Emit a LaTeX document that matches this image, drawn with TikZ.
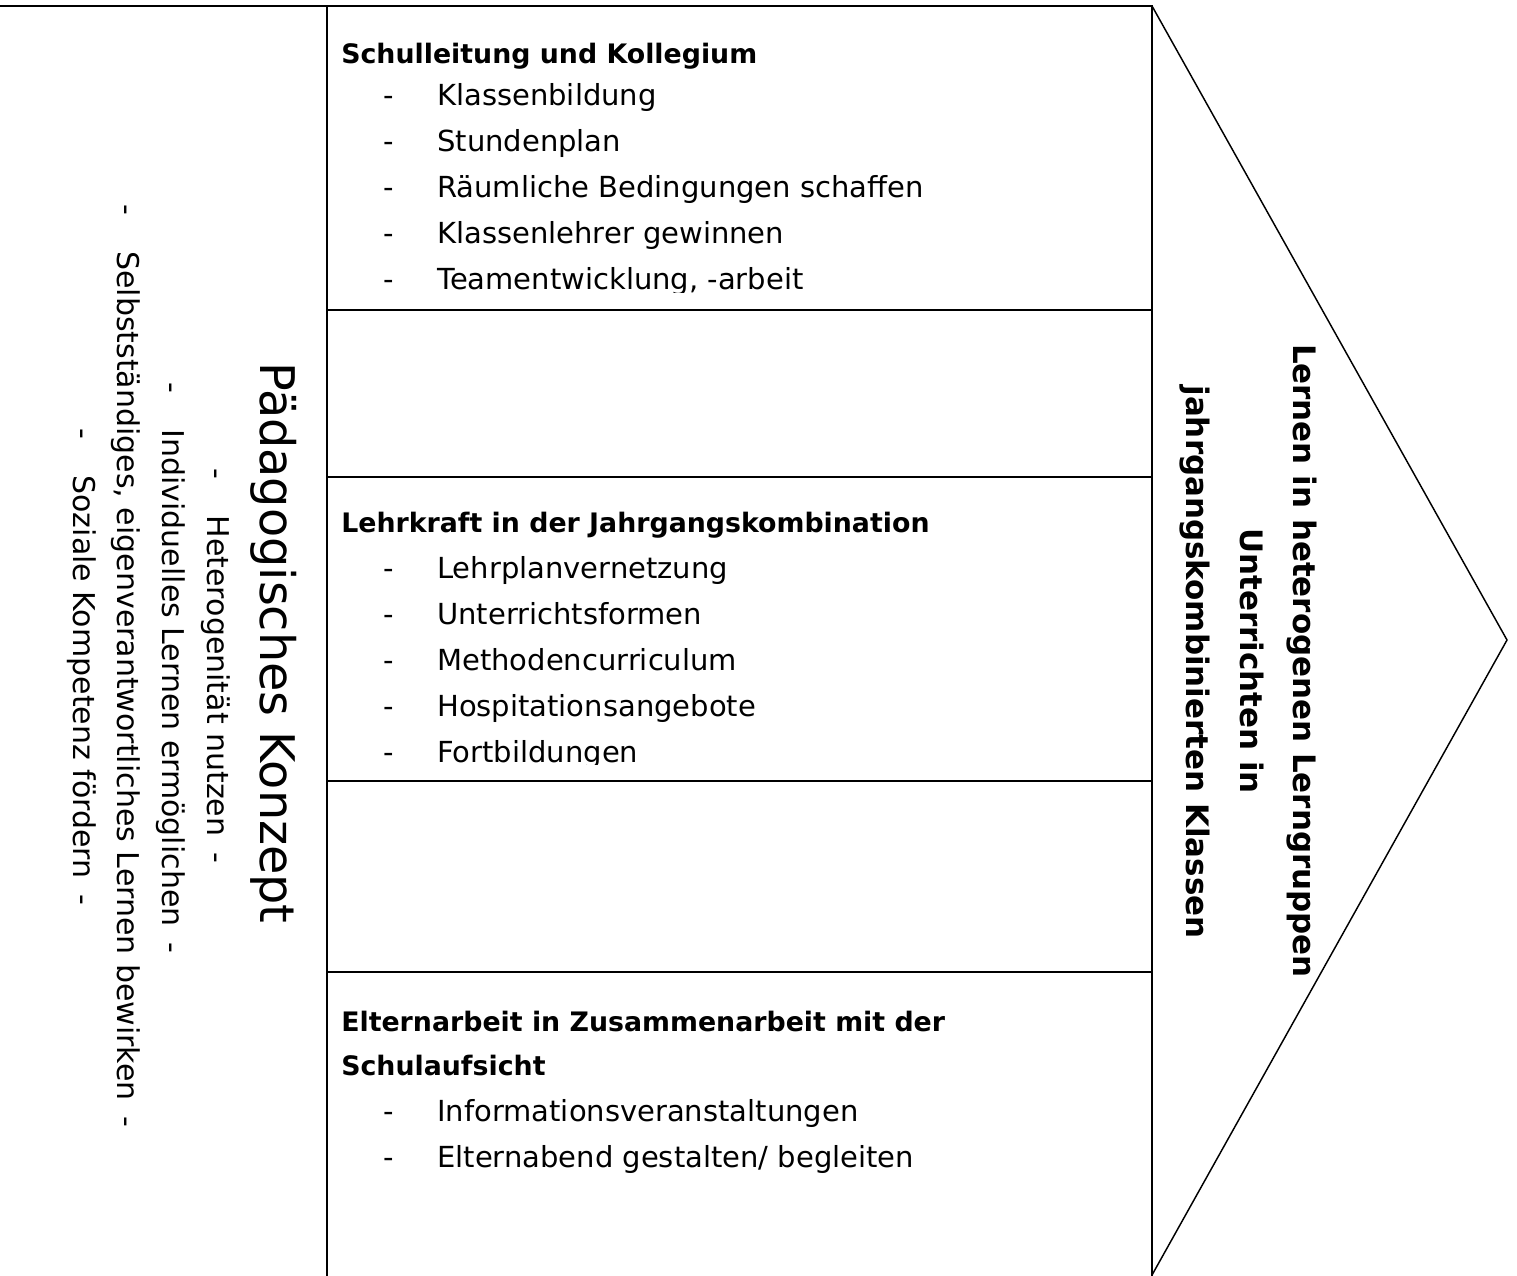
\documentclass[tikz,border=0pt]{standalone}
\usepackage{fontspec}
\setmainfont{DejaVu Sans}
\begin{document}
\begin{tikzpicture}[x=0.75pt,y=-0.75pt,
  frame/.style={line width=1.5pt,line cap=rect},
  arrowline/.style={line width=1.1pt},
  head/.style={anchor=base west,inner sep=0pt,font=\bfseries\fontsize{20.1pt}{24pt}\selectfont},
  itemtext/.style={anchor=base west,inner sep=0pt,font=\fontsize{21.75pt}{26pt}\selectfont},
  bul/.style={anchor=base,inner sep=0pt,font=\fontsize{21.75pt}{26pt}\selectfont},
  lefttitle/.style={anchor=base,inner sep=0pt,rotate=-90,font=\fontsize{35.8pt}{40pt}\selectfont},
  leftitem/.style={anchor=base,inner sep=0pt,rotate=-90,font=\fontsize{22.5pt}{27pt}\selectfont},
  rightitem/.style={anchor=base,inner sep=0pt,rotate=-90,font=\bfseries\fontsize{23.2pt}{28pt}\selectfont}
]
\useasboundingbox (0,0) rectangle (1517,1275);
\clip (0,0) rectangle (1517,1275);

% frame coordinates
\coordinate (tl) at (0,6);
\coordinate (lt) at (327,6);
\coordinate (lb) at (327,1275);
\coordinate (rt) at (1152,6);
\coordinate (rb) at (1152,1275);
\coordinate (tip) at (1507,640);

\draw[frame] (tl) -- (rt);
\draw[frame] (lt) -- (lb);
\draw[frame] (rt) -- (rb);
\draw[arrowline] (rt) -- (tip) -- (rb);

\foreach \yy in {310,477,781,972}{
  \draw[frame] (327,\yy) -- (1152,\yy);
}

% Box 1
\begin{scope}
\clip (327,6) rectangle (1152,292);
\node[head] (h1) at (341,63) {Schulleitung und Kollegium};
\node[bul] (b11) at (389,105) {-};
\node[itemtext] (i11) at (437,105) {Klassenbildung};
\node[bul] (b12) at (389,151) {-};
\node[itemtext] (i12) at (437,151) {Stundenplan};
\node[bul] (b13) at (389,197) {-};
\node[itemtext] (i13) at (437,197) {Räumliche Bedingungen schaffen};
\node[bul] (b14) at (389,243) {-};
\node[itemtext] (i14) at (437,243) {Klassenlehrer gewinnen};
\node[bul] (b15) at (389,289) {-};
\node[itemtext] (i15) at (437,289) {Teamentwicklung, -arbeit};
\end{scope}

% Box 2
\begin{scope}
\clip (327,477) rectangle (1152,764);
\node[head] (h2) at (341,532) {Lehrkraft in der Jahrgangskombination};
\node[bul] (b21) at (389,578) {-};
\node[itemtext] (i21) at (437,578) {Lehrplanvernetzung};
\node[bul] (b22) at (389,624) {-};
\node[itemtext] (i22) at (437,624) {Unterrichtsformen};
\node[bul] (b23) at (389,670) {-};
\node[itemtext] (i23) at (437,670) {Methodencurriculum};
\node[bul] (b24) at (389,716) {-};
\node[itemtext] (i24) at (437,716) {Hospitationsangebote};
\node[bul] (b25) at (389,762) {-};
\node[itemtext] (i25) at (437,762) {Fortbildungen};
\end{scope}

% Box 3
\node[head] (h3a) at (341,1031) {Elternarbeit in Zusammenarbeit mit der};
\node[head] (h3b) at (341,1075) {Schulaufsicht};
\node[bul] (b31) at (389,1121) {-};
\node[itemtext] (i31) at (437,1121) {Informationsveranstaltungen};
\node[bul] (b32) at (389,1167) {-};
\node[itemtext] (i32) at (437,1167) {Elternabend gestalten/ begleiten};

% Left rotated texts
\node[lefttitle] (lt1) at (260,643) {Pädagogisches Konzept};
\node[leftitem] (l1) at (207,666) {-\hspace{27pt}Heterogenität nutzen\hspace{12pt}-};
\node[leftitem] (l2) at (162,668) {-\hspace{27pt}Individuelles Lernen ermöglichen\hspace{12pt}-};
\node[leftitem] (l3) at (117,666) {-\hspace{27pt}Selbstständiges, eigenverantwortliches Lernen bewirken\hspace{12pt}-};
\node[leftitem] (l4) at (73,667) {-\hspace{27pt}Soziale Kompetenz fördern\hspace{12pt}-};

% Right rotated texts
\node[rightitem] (r1) at (1293,661) {Lernen in heterogenen Lerngruppen};
\node[rightitem] (r2) at (1240,661) {Unterrichten in};
\node[rightitem] (r3) at (1186,662) {jahrgangskombinierten Klassen};
\end{tikzpicture}
\end{document}
